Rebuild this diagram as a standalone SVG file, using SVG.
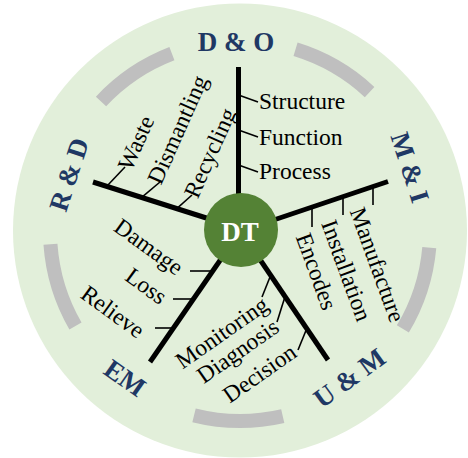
<svg xmlns="http://www.w3.org/2000/svg" width="468" height="458" viewBox="0 0 468 458">
<style>
.arc{fill:none;stroke:#bfbfbf;stroke-width:14}
.spoke{stroke:#000;stroke-width:5;fill:none}
.tick{stroke:#000;stroke-width:1.6;fill:none}
.item{font-family:"Liberation Serif","Times New Roman",serif;font-size:23.5px;fill:#000}
.title{font-family:"Liberation Serif","Times New Roman",serif;font-size:27px;font-weight:bold;fill:#1f3864;text-anchor:middle}
.mid{text-anchor:middle}
</style>
<g id="background">
<circle cx="240" cy="230.5" r="227" fill="#e2efda"/>
</g>
<g id="ring">
<path class="arc" d="M101.03,101.42 A190,190 0 0 1 171.91,53.62"/>
<path class="arc" d="M295.55,49.30 A190,190 0 0 1 369.58,92.03"/>
<path class="arc" d="M429.27,247.56 A190,190 0 0 1 402.86,328.86"/>
<path class="arc" d="M282.74,416.13 A190,190 0 0 1 194.03,415.35"/>
<path class="arc" d="M75.46,326 A190,190 0 0 1 50.46,244.25"/>
</g>
<g id="connectors">
<line class="spoke" x1="238.5" y1="230" x2="238.5" y2="67"/>
<line class="spoke" x1="241" y1="231" x2="388" y2="181.5"/>
<line class="spoke" x1="241" y1="229" x2="93" y2="182"/>
<line class="spoke" x1="241" y1="230" x2="150" y2="362"/>
<line class="spoke" x1="240" y1="230" x2="328" y2="360"/>
<line class="tick" x1="238.5" y1="95" x2="258" y2="102"/>
<line class="tick" x1="238.5" y1="130" x2="258" y2="137"/>
<line class="tick" x1="238.5" y1="165" x2="258" y2="172"/>
<line class="tick" x1="107" y1="186" x2="125" y2="167"/>
<line class="tick" x1="142" y1="197.2" x2="160" y2="182"/>
<line class="tick" x1="177" y1="208.3" x2="192" y2="195"/>
<line class="tick" x1="373" y1="186.9" x2="373" y2="205"/>
<line class="tick" x1="343" y1="197" x2="343" y2="215"/>
<line class="tick" x1="312" y1="207.5" x2="312" y2="227"/>
<line class="tick" x1="190" y1="271" x2="213" y2="271"/>
<line class="tick" x1="173" y1="299" x2="193.5" y2="299"/>
<line class="tick" x1="155" y1="328" x2="173.4" y2="328"/>
<line class="tick" x1="270.5" y1="275.7" x2="262" y2="297"/>
<line class="tick" x1="284.9" y1="297.1" x2="277" y2="322"/>
<line class="tick" x1="306.5" y1="329.2" x2="298" y2="350"/>
</g>
<g id="DT">
<circle cx="241" cy="230" r="37" fill="#548235"/>
<text x="240" y="241" class="title" style="fill:#fff">DT</text>
</g>
<g id="DO">
<text class="title" x="236" y="51">D &amp; O</text>
<text class="item" x="259" y="109">Structure</text>
<text class="item" x="259" y="145">Function</text>
<text class="item" x="259" y="178.5">Process</text>
</g>
<g id="MI">
<text class="title" transform="translate(401.4,170.3) rotate(72)">M &amp; I</text>
<text class="item mid" transform="translate(370.1,267.4) rotate(70)">Manufacture</text>
<text class="item mid" transform="translate(339.1,273.1) rotate(70)">Installation</text>
<text class="item mid" transform="translate(309.1,274.1) rotate(70)">Encodes</text>
</g>
<g id="UM">
<text class="title" transform="translate(354.8,385.3) rotate(-36)">U &amp; M</text>
<text class="item mid" transform="translate(226.3,339) rotate(-35)">Monitoring</text>
<text class="item mid" transform="translate(242.3,357.4) rotate(-35)">Diagnosis</text>
<text class="item mid" transform="translate(264,379.7) rotate(-35)">Decision</text>
</g>
<g id="EM">
<text class="title" transform="translate(119.8,385.4) rotate(35)">EM</text>
<text class="item mid" transform="translate(144.2,253) rotate(36)">Damage</text>
<text class="item mid" transform="translate(141.6,292.4) rotate(36)">Loss</text>
<text class="item mid" transform="translate(108.2,318) rotate(36)">Relieve</text>
</g>
<g id="RD">
<text class="title" transform="translate(77.6,177.3) rotate(-72)">R &amp; D</text>
<text class="item mid" transform="translate(143.1,146.1) rotate(-66)">Waste</text>
<text class="item mid" transform="translate(184.7,132.8) rotate(-66)">Dismantling</text>
<text class="item mid" transform="translate(217.1,156.1) rotate(-66)">Recycling</text>
</g>
</svg>
